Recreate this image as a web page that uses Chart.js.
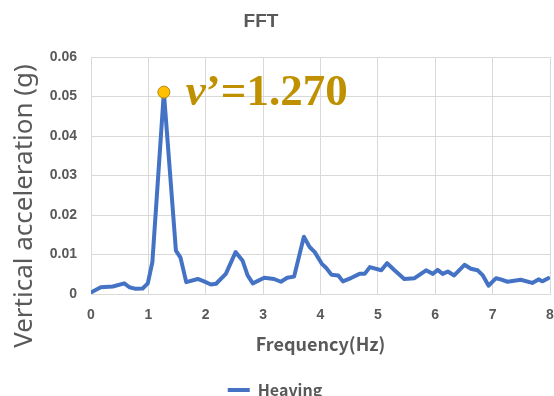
<!DOCTYPE html>
<html>
<head>
<meta charset="utf-8">
<script src="https://cdn.jsdelivr.net/npm/chart.js@4/dist/chart.umd.min.js"></script>
<style>
html,body{margin:0;padding:0;background:#fff;}
#wrap{width:554px;height:396px;position:relative;}
</style>
</head>
<body>
<div id="wrap"><canvas id="c" width="554" height="396"></canvas></div>
<script>
// ---- data ----
const chartTitle = "FFT";
const yAxisTitle = "Vertical acceleration (g)";
const xAxisTitle = "Frequency(Hz)";
const seriesName = "Heaving";
const frequencies = [0.00,0.17,0.38,0.58,0.67,0.78,0.90,0.99,1.07,1.27,1.48,1.56,1.66,1.86,1.97,2.09,2.18,2.35,2.52,2.64,2.73,2.82,3.02,3.19,3.31,3.42,3.54,3.71,3.81,3.90,4.02,4.10,4.19,4.31,4.39,4.54,4.68,4.77,4.86,5.06,5.16,5.29,5.46,5.64,5.84,5.96,6.04,6.13,6.22,6.33,6.51,6.62,6.74,6.83,6.93,7.06,7.14,7.26,7.49,7.69,7.80,7.87,7.97];
const accelerations = [0.0004,0.0017,0.0019,0.0027,0.0017,0.0013,0.0014,0.0027,0.0081,0.0511,0.0110,0.0092,0.0030,0.0038,0.0032,0.0024,0.0026,0.0051,0.0106,0.0085,0.0047,0.0027,0.0041,0.0038,0.0031,0.0041,0.0044,0.0145,0.0119,0.0106,0.0077,0.0066,0.0049,0.0047,0.0032,0.0041,0.0051,0.0051,0.0068,0.0060,0.0078,0.0060,0.0038,0.0040,0.0060,0.0051,0.0061,0.0051,0.0057,0.0047,0.0074,0.0064,0.0060,0.0047,0.0021,0.0040,0.0037,0.0031,0.0036,0.0028,0.0037,0.0032,0.0040];
const peakFrequency = [1.27];
const peakValue = [0.0511];
const peakLabelSymbol = "ν";
const peakLabelRest = "’=1.270";
const xTicks = [0,1,2,3,4,5,6,7,8];
const yTicks = [0,0.01,0.02,0.03,0.04,0.05,0.06];

const GRAY = '#595959';
const GRID = '#d9d9d9';

const mainPoints = frequencies.map((f,i)=>({x:f,y:accelerations[i]}));
const peakPoints = peakFrequency.map((f,i)=>({x:f,y:peakValue[i]}));

const overlay = {
  id:'overlay',
  afterDraw(chart){
    const ctx = chart.ctx;
    ctx.save();
    ctx.fillStyle = GRAY;
    ctx.textAlign = 'center';
    ctx.textBaseline = 'middle';
    ctx.font = 'bold 19px "Liberation Sans", Arial, sans-serif';
    ctx.fillText(chartTitle, 261, 22);
    ctx.translate(25, 206);
    ctx.rotate(-Math.PI/2);
    ctx.font = '26px "Noto Sans", "Liberation Sans", sans-serif';
    ctx.fillText(yAxisTitle, 0, 0);
    ctx.restore();

    const xs = chart.scales.x, ys = chart.scales.y;
    const px = xs.getPixelForValue(peakFrequency[0]);
    const py = ys.getPixelForValue(peakValue[0]);
    ctx.save();
    ctx.fillStyle = '#BF9000';
    ctx.textAlign = 'left';
    ctx.textBaseline = 'middle';
    let x0 = px + 22;
    ctx.font = 'italic bold 45px "Liberation Serif", "DejaVu Serif", serif';
    ctx.fillText(peakLabelSymbol, x0, py + 1);
    const w = ctx.measureText(peakLabelSymbol).width;
    ctx.font = 'bold 45px "Liberation Serif", "DejaVu Serif", serif';
    ctx.fillText(peakLabelRest, x0 + w, py + 1);
    ctx.restore();
  }
};

new Chart(document.getElementById('c'), {
  type: 'scatter',
  data: {
    datasets: [
      {
        label: seriesName,
        data: mainPoints,
        showLine: true,
        borderColor: '#4472C4',
        backgroundColor: '#4472C4',
        borderWidth: 4,
        borderJoinStyle: 'round',
        borderCapStyle: 'round',
        pointRadius: 0,
        pointHoverRadius: 0,
        tension: 0,
        order: 2
      },
      {
        label: 'peak',
        data: peakPoints,
        showLine: false,
        pointRadius: 6,
        pointBackgroundColor: '#FFC000',
        pointBorderColor: '#B8860B',
        pointBorderWidth: 1,
        order: 1
      }
    ]
  },
  options: {
    responsive: false,
    animation: false,
    devicePixelRatio: 1,
    layout: { autoPadding: false, padding: { top: 57, right: 4, left: 0, bottom: -12 } },
    plugins: {
      title: { display: false },
      tooltip: { enabled: false },
      legend: {
        display: true,
        position: 'bottom',
        labels: {
          filter: (item) => item.datasetIndex === 0,
          usePointStyle: true,
          pointStyle: 'line',
          pointStyleWidth: 22,
          padding: 0,
          color: GRAY,
          font: { family: '"Noto Sans CJK JP", "Noto Sans", sans-serif', size: 16, weight: 'bold' }
        }
      }
    },
    scales: {
      x: {
        type: 'linear',
        min: 0, max: 8,
        afterBuildTicks: (s) => { s.ticks = xTicks.map(v => ({value: v})); },
        afterFit: (s) => { s.height = 88; s.paddingLeft = 0; s.paddingRight = 0; },
        ticks: {
          color: GRAY,
          padding: 13,
          font: { family: '"Liberation Sans", Arial, sans-serif', size: 14, weight: 'bold' },
          callback: (v) => String(v)
        },
        grid: { color: GRID, drawTicks: false, lineWidth: 1 },
        border: { color: GRID },
        title: {
          display: true,
          text: xAxisTitle,
          color: GRAY,
          padding: { top: 0, bottom: 27 },
          font: { family: '"Noto Sans CJK JP", "Noto Sans", sans-serif', size: 18, weight: 'bold' }
        }
      },
      y: {
        type: 'linear',
        min: 0, max: 0.06,
        afterBuildTicks: (s) => { s.ticks = yTicks.map(v => ({value: v})); },
        afterFit: (s) => { s.width = 91; },
        ticks: {
          color: GRAY,
          padding: 14,
          font: { family: '"Liberation Sans", Arial, sans-serif', size: 14, weight: 'bold' },
          callback: (v) => v === 0 ? '0' : Number(v).toFixed(2)
        },
        grid: { color: GRID, drawTicks: false, lineWidth: 1 },
        border: { color: GRID },
        title: { display: false }
      }
    }
  },
  plugins: [overlay]
});
</script>
</body>
</html>
